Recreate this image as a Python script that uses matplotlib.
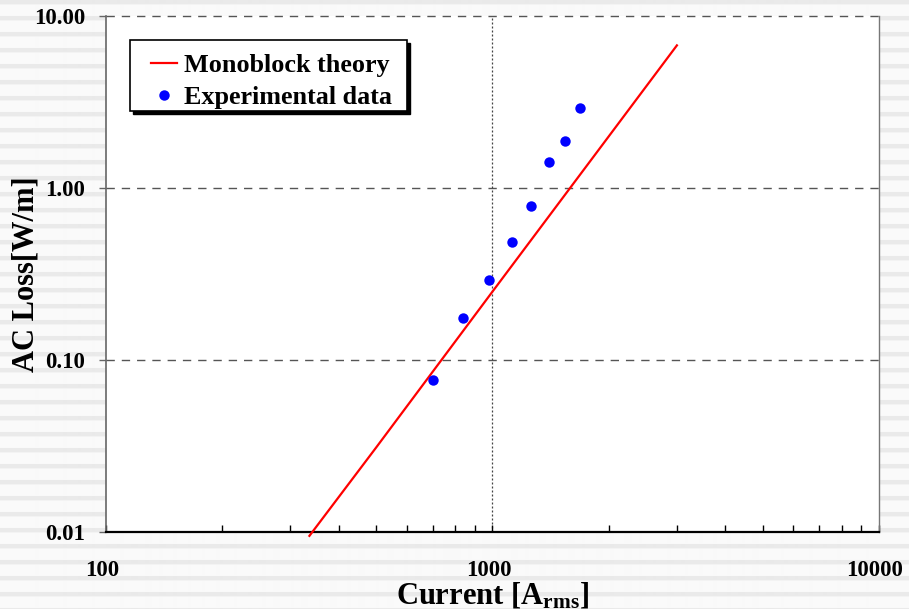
import numpy as np
import matplotlib
matplotlib.use("Agg")
import matplotlib.pyplot as plt
import matplotlib.transforms as mtransforms
from matplotlib.patches import Rectangle
from matplotlib.ticker import FixedLocator, FixedFormatter, LogLocator, NullFormatter

plt.rcParams["font.family"] = ["Liberation Serif", "DejaVu Serif"]
plt.rcParams["font.weight"] = "bold"
plt.rcParams["mathtext.fontset"] = "custom"
plt.rcParams["mathtext.rm"] = "Liberation Serif:bold"
plt.rcParams["mathtext.it"] = "Liberation Serif:bold"
plt.rcParams["mathtext.bf"] = "Liberation Serif:bold"

# measured AC loss
current_exp = [700, 840, 980, 1120, 1260, 1400, 1540, 1680]
loss_exp = [0.077, 0.175, 0.29, 0.485, 0.79, 1.42, 1.87, 2.92]

# monoblock theory curve
current_theory = [336, 500, 1000, 2000, 3000]
loss_theory = [0.0095, 0.031, 0.25, 2.0, 6.75]

x_ticks = [100, 1000, 10000]
x_labels = ["100", "1000", "10000"]
y_ticks = [0.01, 0.1, 1, 10]
y_labels = ["0.01", "0.10", "1.00", "10.00"]

fig = plt.figure(figsize=(9.09, 6.09), dpi=100)

# striped slide background
bg = fig.add_axes([0, 0, 1, 1], zorder=-10)
rows = np.full(609, 0.98)
for start in range(0, 609, 16):
    rows[start:start + 4] = 0.915
    if start + 4 < 609:
        rows[start + 4] = 0.95
bg.imshow(rows[:, None], aspect="auto", cmap="gray", vmin=0, vmax=1,
          extent=[0, 1, 0, 1], interpolation="bilinear")
bg.axis("off")

ax = fig.add_axes([0.1166, 0.1264, 0.8504, 0.8473])
ax.set_facecolor("white")
ax.set_xscale("log")
ax.set_yscale("log")
ax.set_xlim(100, 10000)
ax.set_ylim(0.01, 10)

ax.plot(current_theory, loss_theory, color="#ff0000", lw=1.6,
        label="Monoblock theory", zorder=3, clip_on=False)
ax.plot(current_exp, loss_exp, "o", color="#0000ff", ms=7.5, mec="none",
        label="Experimental data", zorder=4)

# grid lines
for yv in [0.1, 1, 10]:
    ax.axhline(yv, color="#555555", lw=1.0, ls=(0, (6, 5)), zorder=1, clip_on=False)
ax.axvline(1000, color="#444444", lw=0.9, ls=(0, (1.6, 1.6)), zorder=1)

ax.spines["top"].set_visible(False)
ax.spines["right"].set_color("#777777")
ax.spines["left"].set_color("#666666")
ax.spines["right"].set_linewidth(1.0)
ax.spines["left"].set_linewidth(1.2)
ax.spines["bottom"].set_color("black")
ax.spines["bottom"].set_linewidth(1.6)

ax.xaxis.set_major_locator(FixedLocator(x_ticks))
ax.xaxis.set_major_formatter(FixedFormatter(x_labels))
ax.xaxis.set_minor_locator(LogLocator(base=10, subs=np.arange(2, 10), numticks=20))
ax.xaxis.set_minor_formatter(NullFormatter())
ax.tick_params(axis="x", which="both", direction="in", length=5, width=1,
               color="black", labelsize=16.5, pad=20)

ax.yaxis.set_major_locator(FixedLocator(y_ticks))
ax.yaxis.set_major_formatter(FixedFormatter(y_labels))
ax.yaxis.set_minor_locator(FixedLocator([]))
ax.tick_params(axis="y", which="major", direction="out", length=5, width=1,
               color="#666666", labelsize=16.5, pad=10)

shift = mtransforms.ScaledTranslation(-4 / 100, 0, fig.dpi_scale_trans)
for lab in ax.get_xticklabels():
    lab.set_transform(lab.get_transform() + shift)
for lab in ax.get_xticklabels() + ax.get_yticklabels():
    lab.set_fontweight("bold")

fig.text(0.029, 0.55, "AC Loss[W/m]", rotation=90, ha="center", va="center",
         fontsize=22, fontweight="bold")
fig.text(0.5415, 0.0085, r"Current [A$_{\mathrm{rms}}$]", ha="center", va="baseline",
         fontsize=22, fontweight="bold")

# legend box with a hard drop shadow
box_x, box_y, box_w, box_h = 130 / 909, 1 - 111 / 609, 277 / 909, 71 / 609
ax.add_patch(Rectangle((box_x + 3 / 909, box_y - 3 / 609), box_w, box_h,
                       transform=fig.transFigure, facecolor="black",
                       edgecolor="black", zorder=5, clip_on=False))
ax.add_patch(Rectangle((box_x, box_y), box_w, box_h,
                       transform=fig.transFigure, facecolor="white",
                       edgecolor="black", lw=1.2, zorder=6, clip_on=False))

leg = ax.legend(loc="center left", bbox_to_anchor=(151 / 909, 1 - 81.5 / 609),
                bbox_transform=fig.transFigure, borderaxespad=0, borderpad=0,
                fontsize=18.8, frameon=False, handlelength=0.98,
                handletextpad=0.27, labelspacing=0.36, numpoints=1)
leg.set_zorder(7)
for t in leg.get_texts():
    t.set_fontweight("bold")

fig.savefig("out.png", dpi=100)
